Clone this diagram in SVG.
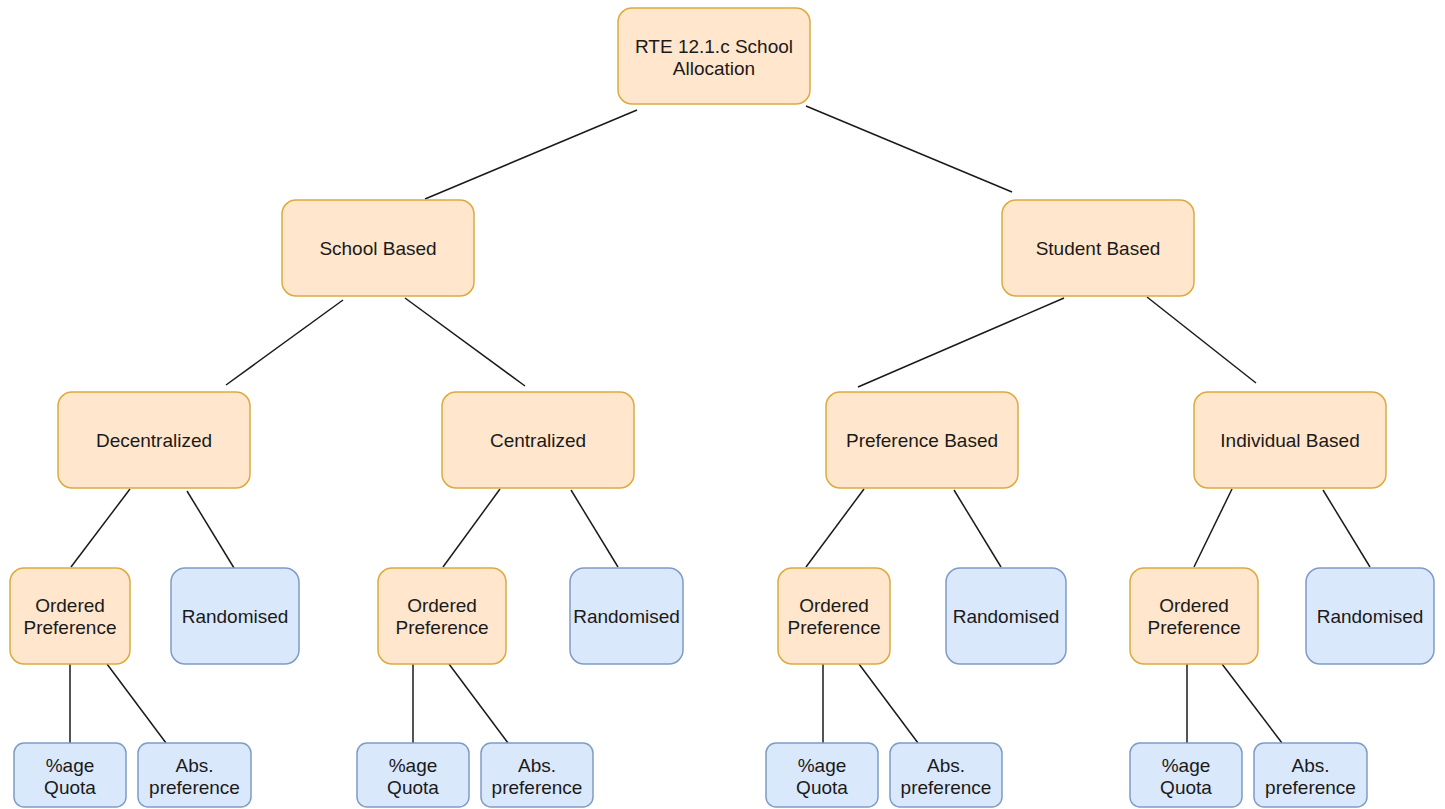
<svg xmlns="http://www.w3.org/2000/svg" width="1445" height="809" viewBox="0 0 1445 809">
<style>
.o{fill:#ffe6cc;stroke:#dcaa3c;stroke-width:1.5}
.b{fill:#dae8fc;stroke:#7f9cc6;stroke-width:1.5}
text{font-family:"Liberation Sans",Arial,sans-serif;font-size:19px;fill:#1a1a1a;text-anchor:middle}
.e line{stroke:#1a1a1a;stroke-width:1.5}
</style>
<rect width="1445" height="809" fill="#ffffff"/>
<g class="e" id="connectors">
<line x1="637" y1="110" x2="425" y2="199"/>
<line x1="806" y1="106" x2="1012" y2="192"/>
<line x1="343" y1="300" x2="226" y2="385"/>
<line x1="405" y1="298" x2="525" y2="386"/>
<line x1="1064" y1="298" x2="858" y2="387"/>
<line x1="1147" y1="297" x2="1256" y2="383"/>
<line x1="130" y1="489" x2="71" y2="567"/>
<line x1="187" y1="491" x2="234" y2="568"/>
<line x1="500" y1="489" x2="443" y2="567"/>
<line x1="571" y1="490" x2="618" y2="567"/>
<line x1="864" y1="489" x2="806" y2="567"/>
<line x1="954" y1="490" x2="1001" y2="567"/>
<line x1="1232" y1="489" x2="1194" y2="567"/>
<line x1="1323" y1="490" x2="1370" y2="567"/>
<line x1="70" y1="664" x2="70" y2="743"/>
<line x1="107" y1="664" x2="166" y2="743"/>
<line x1="413" y1="664" x2="413" y2="743"/>
<line x1="449" y1="664" x2="508" y2="743"/>
<line x1="823" y1="664" x2="823" y2="743"/>
<line x1="859" y1="664" x2="918" y2="743"/>
<line x1="1187" y1="664" x2="1187" y2="743"/>
<line x1="1222" y1="664" x2="1282" y2="743"/>
</g>
<g id="root"><rect class="o" x="618" y="8" width="192" height="96" rx="14"/><text x="714" y="52.5">RTE 12.1.c School</text><text x="714" y="74.5">Allocation</text></g>
<g id="school-based"><rect class="o" x="282" y="200" width="192" height="96" rx="14"/><text x="378" y="254.7">School Based</text></g>
<g id="student-based"><rect class="o" x="1002" y="200" width="192" height="96" rx="14"/><text x="1098" y="254.7">Student Based</text></g>
<g id="decentralized"><rect class="o" x="58" y="392" width="192" height="96" rx="14"/><text x="154" y="446.7">Decentralized</text></g>
<g id="centralized"><rect class="o" x="442" y="392" width="192" height="96" rx="14"/><text x="538" y="446.7">Centralized</text></g>
<g id="preference-based"><rect class="o" x="826" y="392" width="192" height="96" rx="14"/><text x="922" y="446.7">Preference Based</text></g>
<g id="individual-based"><rect class="o" x="1194" y="392" width="192" height="96" rx="14"/><text x="1290" y="446.7">Individual Based</text></g>
<g id="ordered-1"><rect class="o" x="10" y="568" width="120" height="96" rx="14"/><text x="70" y="611.7">Ordered</text><text x="70" y="633.7">Preference</text></g>
<g id="random-1"><rect class="b" x="171" y="568" width="128" height="96" rx="14"/><text x="235" y="622.7">Randomised</text></g>
<g id="ordered-2"><rect class="o" x="378" y="568" width="128" height="96" rx="14"/><text x="442" y="611.7">Ordered</text><text x="442" y="633.7">Preference</text></g>
<g id="random-2"><rect class="b" x="570" y="568" width="113" height="96" rx="14"/><text x="626.5" y="622.7">Randomised</text></g>
<g id="ordered-3"><rect class="o" x="778" y="568" width="112" height="96" rx="14"/><text x="834" y="611.7">Ordered</text><text x="834" y="633.7">Preference</text></g>
<g id="random-3"><rect class="b" x="946" y="568" width="120" height="96" rx="14"/><text x="1006" y="622.7">Randomised</text></g>
<g id="ordered-4"><rect class="o" x="1130" y="568" width="128" height="96" rx="14"/><text x="1194" y="611.7">Ordered</text><text x="1194" y="633.7">Preference</text></g>
<g id="random-4"><rect class="b" x="1306" y="568" width="128" height="96" rx="14"/><text x="1370" y="622.7">Randomised</text></g>
<g id="quota-1"><rect class="b" x="14" y="743" width="112" height="64" rx="10"/><text x="70" y="771.7">%age</text><text x="70" y="793.7">Quota</text></g>
<g id="abs-1"><rect class="b" x="138" y="743" width="113" height="64" rx="10"/><text x="194.5" y="771.7">Abs.</text><text x="194.5" y="793.7">preference</text></g>
<g id="quota-2"><rect class="b" x="357" y="743" width="112" height="64" rx="10"/><text x="413" y="771.7">%age</text><text x="413" y="793.7">Quota</text></g>
<g id="abs-2"><rect class="b" x="481" y="743" width="112" height="64" rx="10"/><text x="537" y="771.7">Abs.</text><text x="537" y="793.7">preference</text></g>
<g id="quota-3"><rect class="b" x="766" y="743" width="112" height="64" rx="10"/><text x="822" y="771.7">%age</text><text x="822" y="793.7">Quota</text></g>
<g id="abs-3"><rect class="b" x="890" y="743" width="112" height="64" rx="10"/><text x="946" y="771.7">Abs.</text><text x="946" y="793.7">preference</text></g>
<g id="quota-4"><rect class="b" x="1130" y="743" width="112" height="64" rx="10"/><text x="1186" y="771.7">%age</text><text x="1186" y="793.7">Quota</text></g>
<g id="abs-4"><rect class="b" x="1254" y="743" width="113" height="64" rx="10"/><text x="1310.5" y="771.7">Abs.</text><text x="1310.5" y="793.7">preference</text></g>
</svg>
